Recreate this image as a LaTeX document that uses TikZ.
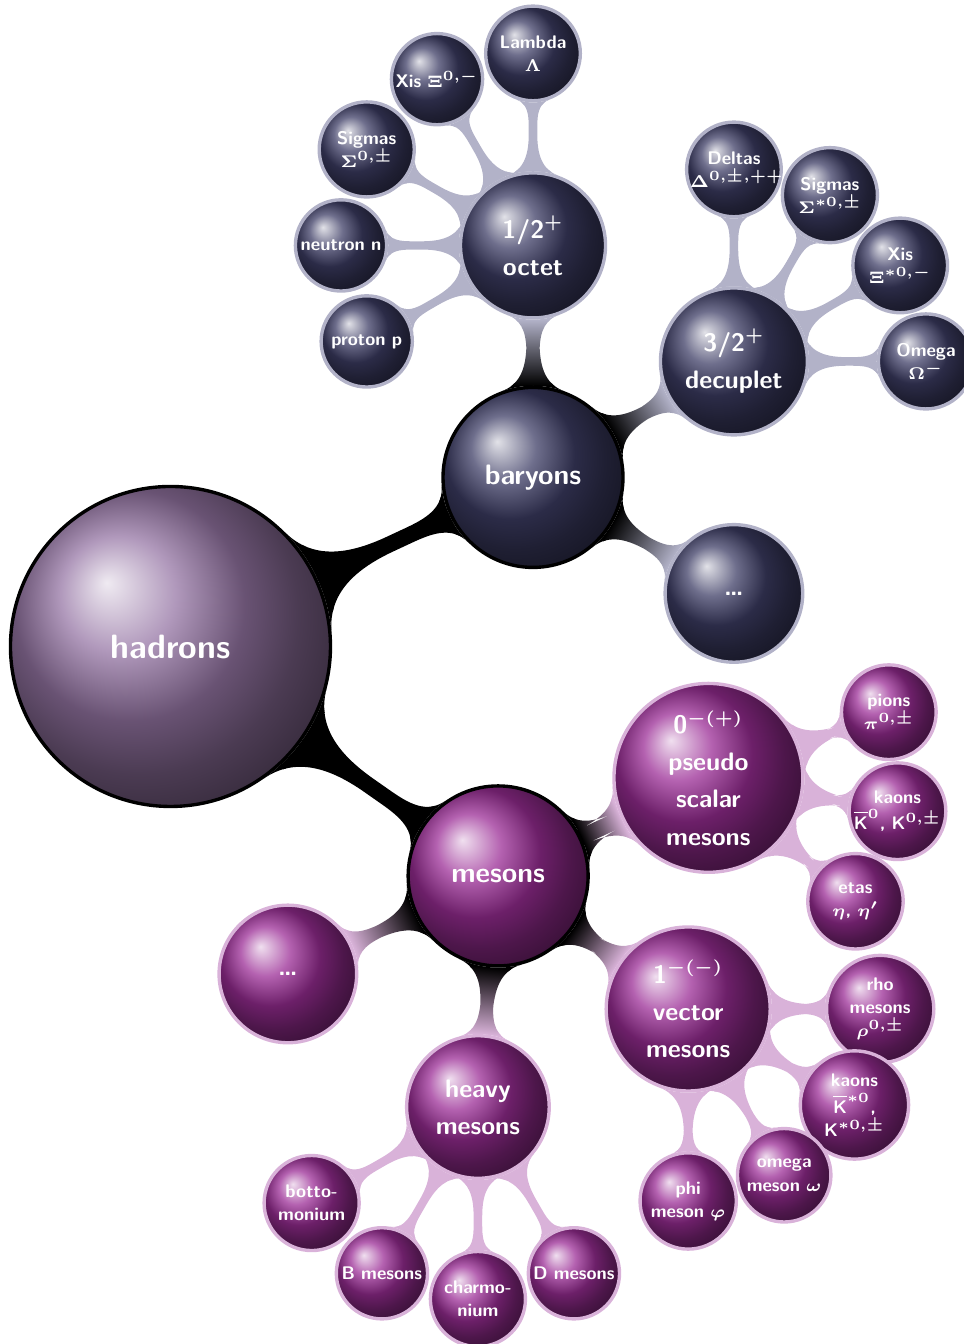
\documentclass[tikz,border=0pt]{standalone}
\usepackage{tikz}
\usetikzlibrary{mindmap,backgrounds}

\definecolor{hadronball}{RGB}{150,118,165}
\definecolor{baryball}{RGB}{62,62,102}
\definecolor{barylight}{RGB}{178,178,200}
\definecolor{mesonball}{RGB}{155,45,150}
\colorlet{mesonlight}{violet!30}

\tikzset{
	ball/.style={circle, shading=ball, text=white, align=center, inner sep=0pt, line width=1.2pt},
	rootball/.style={ball, ball color=hadronball, draw=black, minimum size=4cm, font=\sffamily\bfseries\boldmath\large},
	lvlone/.style={ball, draw=black, minimum size=2.25cm, font=\sffamily\bfseries\boldmath},
	lvltwo/.style={ball, minimum size=1.72cm, text width=1.65cm, font=\sffamily\bfseries\boldmath\fontsize{9}{13.2}\selectfont},
	leafball/.style={ball, minimum size=1.14cm, text width=1.1cm, font=\sffamily\bfseries\boldmath\fontsize{6.5}{8.2}\selectfont},
	baryon/.style={ball color=baryball, draw=barylight},
	meson/.style={ball color=mesonball, draw=mesonlight},
	blackbar/.style={circle connection bar switch color=from (black) to (black)},
	barydown/.style={circle connection bar switch color=from (black) to (barylight)},
	barybar/.style={circle connection bar switch color=from (barylight) to (barylight)},
	mesondown/.style={circle connection bar switch color=from (black) to (mesonlight)},
	mesonbar/.style={circle connection bar switch color=from (mesonlight) to (mesonlight)}
}

\begin{document}
\begin{tikzpicture}
	\useasboundingbox (-2.131,-8.719) rectangle (9.919,8.081);

	\node[rootball] (hadrons) at (0,0) {hadrons};
	\node[lvlone, ball color=baryball] (baryons) at ([shift={(25:5)}]hadrons.center) {baryons};
	\node[lvlone, ball color=mesonball] (mesons) at ([shift={(-35:5)}]hadrons.center) {mesons};

	% baryons
	\node[lvltwo, baryon] (octet) at ([shift={(90:2.9)}]baryons.center) {1/2$^+$\\octet};
	\node[lvltwo, baryon] (decuplet) at ([shift={(30:2.9)}]baryons.center) {3/2$^+$\\decuplet};
	\node[lvltwo, baryon] (bdots) at ([shift={(-30:2.9)}]baryons.center) {\dots};

	\node[leafball, baryon] (lambda) at ([shift={(90:2.4)}]octet.center) {Lambda\\$\Lambda$};
	\node[leafball, baryon] (xi) at ([shift={(120:2.4)}]octet.center) {\mbox{Xis $\Xi^{0,-}$}};
	\node[leafball, baryon] (sigma) at ([shift={(150:2.4)}]octet.center) {Sigmas\\$\Sigma^{0,\pm}$};
	\node[leafball, baryon] (neutron) at ([shift={(180:2.4)}]octet.center) {neutron~n};
	\node[leafball, baryon] (proton) at ([shift={(210:2.4)}]octet.center) {proton~p};

	\node[leafball, baryon] (delta) at ([shift={(90:2.4)}]decuplet.center) {Deltas\\$\Delta^{0,\pm,++}$};
	\node[leafball, baryon] (sigmastar) at ([shift={(60:2.4)}]decuplet.center) {Sigmas\\$\Sigma^{*0,\pm}$};
	\node[leafball, baryon] (xistar) at ([shift={(30:2.4)}]decuplet.center) {Xis\\$\Xi^{*0,-}$};
	\node[leafball, baryon] (omega) at ([shift={(0:2.4)}]decuplet.center) {Omega\\$\Omega^-$};

	% mesons
	\node[lvltwo, meson] (pseudo) at ([shift={(25:2.9)}]mesons.center) {0$^{-(+)}$\\pseudo\\scalar\\mesons};
	\node[lvltwo, meson] (vector) at ([shift={(-35:2.9)}]mesons.center) {1$^{-(-)}$\\vector\\mesons};
	\node[lvltwo, meson] (heavy) at ([shift={(-95:2.9)}]mesons.center) {heavy\\mesons};
	\node[lvltwo, meson] (mdots) at ([shift={(-155:2.9)}]mesons.center) {\dots};

	\node[leafball, meson] (pion) at ([shift={(20:2.4)}]pseudo.center) {pions\\$\pi^{0,\pm}$};
	\node[leafball, meson] (kaon) at ([shift={(-10:2.4)}]pseudo.center) {kaons\\[1pt]\mbox{$\overline{\mbox{K}}^0$, K$^{0,\pm}$}};
	\node[leafball, meson] (eta) at ([shift={(-40:2.4)}]pseudo.center) {etas\\$\eta$, $\eta'$};

	\node[leafball, meson] (rho) at ([shift={(0:2.4)}]vector.center) {rho\\mesons\\$\rho^{0,\pm}$};
	\node[leafball, meson] (kaonstar) at ([shift={(-30:2.4)}]vector.center) {kaons\\[1.5pt]$\overline{\mbox{K}}^{*0}$,\\K$^{*0,\pm}$};
	\node[leafball, meson] (omegameson) at ([shift={(-60:2.4)}]vector.center) {omega\\meson~$\omega$};
	\node[leafball, meson] (phi) at ([shift={(-90:2.4)}]vector.center) {phi\\meson~$\varphi$};

	\node[leafball, meson] (bottomonium) at ([shift={(-150:2.4)}]heavy.center) {botto-\\monium};
	\node[leafball, meson] (bmeson) at ([shift={(-120:2.4)}]heavy.center) {B~mesons};
	\node[leafball, meson] (charmonium) at ([shift={(-90:2.4)}]heavy.center) {charmo-\\nium};
	\node[leafball, meson] (dmeson) at ([shift={(-60:2.4)}]heavy.center) {D~mesons};

	% connection bars behind the balls
	\begin{scope}[on background layer]
		\foreach \from/\to/\bar in {hadrons/baryons/blackbar, hadrons/mesons/blackbar,
				baryons/octet/barydown, baryons/decuplet/barydown, baryons/bdots/barydown,
				octet/lambda/barybar, octet/xi/barybar, octet/sigma/barybar, octet/neutron/barybar, octet/proton/barybar,
				decuplet/delta/barybar, decuplet/sigmastar/barybar, decuplet/xistar/barybar, decuplet/omega/barybar,
				mesons/pseudo/mesondown, mesons/vector/mesondown, mesons/heavy/mesondown, mesons/mdots/mesondown,
				pseudo/pion/mesonbar, pseudo/kaon/mesonbar, pseudo/eta/mesonbar,
				vector/rho/mesonbar, vector/kaonstar/mesonbar, vector/omegameson/mesonbar, vector/phi/mesonbar,
				heavy/bottomonium/mesonbar, heavy/bmeson/mesonbar, heavy/charmonium/mesonbar, heavy/dmeson/mesonbar}
			\path (\from) to[\bar] (\to);
	\end{scope}
\end{tikzpicture}
\end{document}
